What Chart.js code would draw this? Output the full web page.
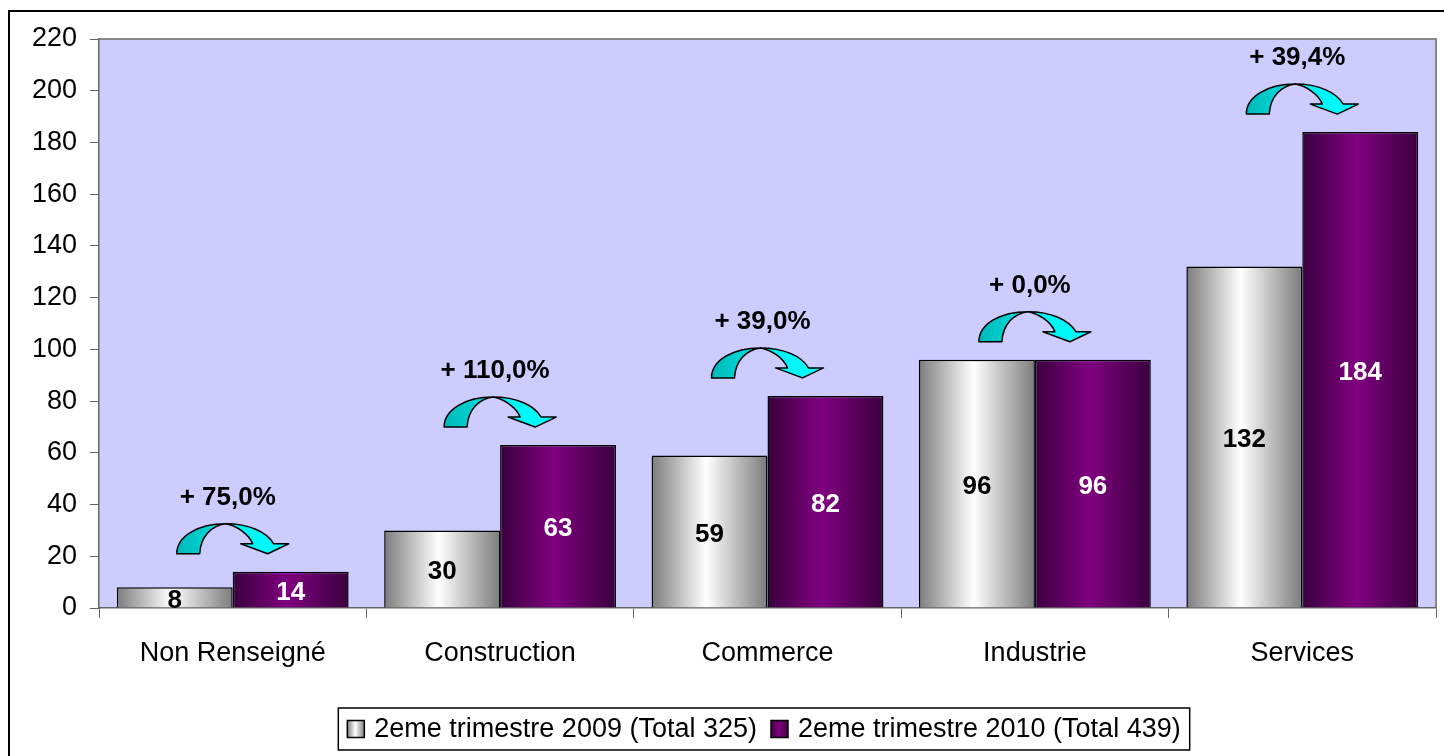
<!DOCTYPE html>
<html>
<head>
<meta charset="utf-8">
<script src="https://cdn.jsdelivr.net/npm/chart.js@4.4.0/dist/chart.umd.min.js"></script>
<style>
  html, body { margin: 0; padding: 0; background: #fff; }
  #cadre { width: 1444px; height: 756px; }
</style>
</head>
<body>
<div id="cadre"><canvas id="graphique-secteurs" width="1444" height="756"></canvas></div>
<script>
// Données
const categories = ["Non Renseigné", "Construction", "Commerce", "Industrie", "Services"];
const valeurs2009 = [8, 30, 59, 96, 132];
const valeurs2010 = [14, 63, 82, 96, 184];
const evolutions = ["+ 75,0%", "+ 110,0%", "+ 39,0%", "+ 0,0%", "+ 39,4%"];
const libelles = ["2eme trimestre 2009 (Total 325)", "2eme trimestre 2010 (Total 439)"];
const axeY = { min: 0, max: 220, pas: 20 };

const police = "'Liberation Sans', Arial, sans-serif";
Chart.defaults.font.family = police;
const largeurCategorie = 0.867;

// Dégradé horizontal pour chaque barre (gris ou violet)
function degradeBarre(context, couleurs) {
  const chart = context.chart;
  if (!chart.chartArea || context.type !== "data") return couleurs[1];
  const xScale = chart.scales.x;
  const centre = xScale.getPixelForValue(context.dataIndex);
  const largeur = chart.chartArea.width / categories.length * largeurCategorie / 2;
  const gauche = centre + (context.datasetIndex - 1) * largeur;
  const g = chart.ctx.createLinearGradient(gauche, 0, gauche + largeur, 0);
  g.addColorStop(0, couleurs[0]);
  g.addColorStop(0.47, couleurs[1]);
  g.addColorStop(1, couleurs[0]);
  return g;
}

// Flèche courbe cyan au-dessus de chaque paire de barres
function dessinerFleche(ctx, cx, yb) {
  ctx.save();
  ctx.translate(cx - 56, yb);
  ctx.lineWidth = 1.5;
  ctx.strokeStyle = "#000";
  ctx.lineJoin = "round";
  // partie gauche, plus sombre
  let g = ctx.createLinearGradient(0, 0, 50, 0);
  g.addColorStop(0, "#00b8b8");
  g.addColorStop(1, "#00e4e4");
  ctx.beginPath();
  ctx.moveTo(0, 0);
  ctx.bezierCurveTo(0, -18, 22, -30, 49, -30);
  ctx.bezierCurveTo(35, -28, 24, -18, 23, 0);
  ctx.closePath();
  ctx.fillStyle = g;
  ctx.fill();
  ctx.stroke();
  // partie droite avec la pointe
  g = ctx.createLinearGradient(49, 0, 112, 0);
  g.addColorStop(0, "#00f0f0");
  g.addColorStop(1, "#00ffff");
  ctx.beginPath();
  ctx.moveTo(49, -30);
  ctx.bezierCurveTo(72, -30, 90, -22, 97, -10);
  ctx.lineTo(112, -10);
  ctx.lineTo(91, 0);
  ctx.lineTo(64, -10);
  ctx.lineTo(76, -10);
  ctx.bezierCurveTo(72, -20, 60, -28, 49, -30);
  ctx.closePath();
  ctx.fillStyle = g;
  ctx.fill();
  ctx.stroke();
  ctx.restore();
}

const pluginFond = {
  id: "fond",
  beforeDraw(chart) {
    const { ctx, chartArea: a } = chart;
    ctx.save();
    ctx.fillStyle = "#fff";
    ctx.fillRect(0, 0, chart.width, chart.height);
    // cadre noir extérieur
    ctx.strokeStyle = "#000";
    ctx.lineWidth = 2;
    ctx.beginPath();
    ctx.moveTo(9, chart.height);
    ctx.lineTo(9, 11);
    ctx.lineTo(chart.width, 11);
    ctx.stroke();
    // zone de traçage
    ctx.fillStyle = "#ccccff";
    ctx.fillRect(a.left, a.top, a.width, a.height);
    ctx.strokeStyle = "#888";
    ctx.lineWidth = 2;
    ctx.beginPath();
    ctx.moveTo(a.left, a.top);
    ctx.lineTo(a.right, a.top);
    ctx.lineTo(a.right, a.bottom);
    ctx.stroke();
    ctx.restore();
  },
  afterDraw(chart) {
    const ctx = chart.ctx;
    ctx.save();
    // valeurs dans les barres
    ctx.font = "bold 26px " + police;
    ctx.textAlign = "center";
    ctx.textBaseline = "middle";
    [0, 1].forEach(d => {
      const meta = chart.getDatasetMeta(d);
      meta.data.forEach((barre, i) => {
        ctx.fillStyle = d === 0 ? "#000" : "#fff";
        const v = chart.data.datasets[d].data[i];
        ctx.fillText(String(v), barre.x, (barre.y + barre.base) / 2 + 3);
      });
    });
    // flèches et pourcentages d'évolution
    const yScale = chart.scales.y;
    const xScale = chart.scales.x;
    categories.forEach((c, i) => {
      const haut = yScale.getPixelForValue(Math.max(valeurs2009[i], valeurs2010[i]));
      const cx = xScale.getPixelForValue(i);
      const basFleche = haut - 18;
      dessinerFleche(ctx, cx, basFleche);
      ctx.fillStyle = "#000";
      ctx.fillText(evolutions[i], cx - 5, basFleche - 56);
    });
    // légende encadrée
    ctx.font = "27px " + police;
    ctx.textAlign = "left";
    const carre = 17, ecart = 10, pad = 9, entre = 14;
    const w1 = ctx.measureText(libelles[0]).width;
    const w2 = ctx.measureText(libelles[1]).width;
    const total = pad + carre + ecart + w1 + entre + carre + ecart + w2 + pad;
    const gauche = 764 - total / 2;
    const haut = 708, bas = 750, milieu = (haut + bas) / 2;
    ctx.strokeStyle = "#000";
    ctx.lineWidth = 1.5;
    ctx.strokeRect(gauche, haut, total, bas - haut);
    const couleurs = [["#808080", "#ffffff"], ["#400040", "#800080"]];
    let x = gauche + pad;
    [w1, w2].forEach((w, k) => {
      const g = ctx.createLinearGradient(x, 0, x + carre, 0);
      g.addColorStop(0, couleurs[k][0]);
      g.addColorStop(0.47, couleurs[k][1]);
      g.addColorStop(1, couleurs[k][0]);
      ctx.fillStyle = g;
      ctx.fillRect(x, milieu - carre / 2, carre, carre);
      ctx.strokeRect(x, milieu - carre / 2, carre, carre);
      x += carre + ecart;
      ctx.fillStyle = "#000";
      ctx.fillText(libelles[k], x, milieu + 1);
      x += w + entre;
    });
    ctx.restore();
  }
};

new Chart(document.querySelector("#graphique-secteurs"), {
  type: "bar",
  data: {
    labels: categories,
    datasets: [
      {
        label: libelles[0],
        data: valeurs2009,
        backgroundColor: ctx => degradeBarre(ctx, ["#7c7c7c", "#ffffff"]),
        borderColor: "#000",
        borderWidth: 1.5,
        categoryPercentage: largeurCategorie,
        barPercentage: 1
      },
      {
        label: libelles[1],
        data: valeurs2010,
        backgroundColor: ctx => degradeBarre(ctx, ["#3a003e", "#800080"]),
        borderColor: "#000",
        borderWidth: 1.5,
        categoryPercentage: largeurCategorie,
        barPercentage: 1
      }
    ]
  },
  options: {
    responsive: false,
    animation: false,
    layout: { padding: { left: 0, top: 39, right: 8, bottom: 78 } },
    plugins: {
      legend: { display: false },
      tooltip: { enabled: false }
    },
    scales: {
      x: {
        offset: true,
        grid: { drawOnChartArea: false, drawTicks: true, tickLength: 10, color: "#666", offset: true },
        border: { color: "#666", width: 1.5 },
        ticks: { color: "#000", font: { size: 27 }, padding: 19, maxRotation: 0 },
        afterFit: s => { s.height = 70; }
      },
      y: {
        min: axeY.min,
        max: axeY.max,
        ticks: { stepSize: axeY.pas, color: "#000", font: { size: 27 }, padding: 13 },
        grid: { drawOnChartArea: false, tickLength: 9, color: "#666" },
        border: { color: "#666", width: 1.5 },
        afterFit: s => { s.width = 99; }
      }
    }
  },
  plugins: [pluginFond]
});
</script>
</body>
</html>
